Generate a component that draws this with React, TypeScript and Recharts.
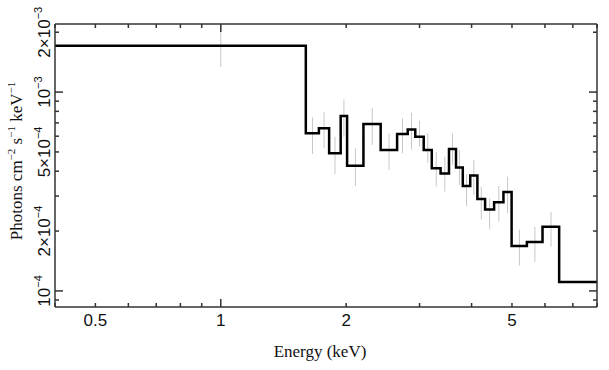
import React from 'react';
import { ComposedChart, Line, Scatter, ErrorBar, XAxis, YAxis, Label } from 'recharts';

// bin edges (keV) and flux per bin (photons cm^-2 s^-1 keV^-1)
const binEdges = [
  0.4, 1.6, 1.72, 1.82, 1.94, 2.01, 2.2, 2.42, 2.65, 2.81, 2.93, 3.07, 3.21, 3.37,
  3.53, 3.67, 3.81, 3.97, 4.13, 4.31, 4.53, 4.77, 4.99, 5.43, 5.92, 6.49, 8,
];
const binFlux = [
  1.71e-3, 6.2e-4, 6.57e-4, 4.92e-4, 7.57e-4, 4.26e-4, 6.9e-4, 5.11e-4, 6.15e-4,
  6.49e-4, 5.96e-4, 5.11e-4, 4.14e-4, 3.9e-4, 5.17e-4, 4.18e-4, 3.37e-4, 3.81e-4,
  2.9e-4, 2.57e-4, 2.79e-4, 3.14e-4, 1.68e-4, 1.76e-4, 2.1e-4, 1.11e-4,
];
const errLow = [
  1.34e-3, 4.88e-4, 5.21e-4, 3.87e-4, 5.96e-4, 3.37e-4, 5.42e-4, 4.06e-4, 4.92e-4,
  5.15e-4, 5.31e-4, 4.4e-4, 3.34e-4, 3.16e-4, 4.3e-4, 3.41e-4, 2.67e-4, 3.04e-4,
  2.29e-4, 2.04e-4, 2.23e-4, 2.46e-4, 1.34e-4, 1.4e-4, 1.67e-4, null,
];
const errHigh = [
  2.18e-3, 7.46e-4, 7.91e-4, 5.96e-4, 9.19e-4, 5.21e-4, 8.34e-4, 6.2e-4, 7.38e-4,
  7.87e-4, 7.17e-4, 6.2e-4, 5.01e-4, 4.73e-4, 6.2e-4, 5.11e-4, 3.86e-4, 4.55e-4,
  3.34e-4, 2.92e-4, 3.37e-4, 3.75e-4, 2.03e-4, 2.1e-4, 2.5e-4, null,
];

const energyTicks = [0.4, 0.5, 0.6, 0.7, 0.8, 0.9, 1, 2, 3, 4, 5, 6, 7, 8];
const energyLabeled = [0.5, 1, 2, 5];
const fluxTicks = [
  9e-5, 1e-4, 2e-4, 3e-4, 4e-4, 5e-4, 6e-4, 7e-4, 8e-4, 9e-4, 1e-3, 2e-3,
];
const fluxLabelValues = [1e-4, 2e-4, 5e-4, 1e-3, 2e-3];
const fluxLabelMantissa = ['', '2×', '5×', '', '2×'];
const fluxLabelExponent = ['−4', '−4', '−4', '−3', '−3'];

const X_DOMAIN = [0.4, 8];
const Y_DOMAIN = [8.3e-5, 2.2e-3];

const AXIS_COLOR = '#333';
const SANS = '"Liberation Sans", Arial, sans-serif';
const SERIF = '"Liberation Serif", "Times New Roman", serif';

const stepData = binEdges.map((e, i) => ({
  e,
  f: binFlux[Math.min(i, binFlux.length - 1)],
}));

const errData = binFlux
  .map((f, i) =>
    errLow[i] == null
      ? null
      : {
          e: (binEdges[i] + binEdges[i + 1]) / 2,
          f,
          err: [f - (errLow[i] as number), (errHigh[i] as number) - f],
        }
  )
  .filter(Boolean);

const near = (a: number, b: number) => Math.abs(a - b) / b < 1e-6;
const isDecade = (v: number) => near(Math.pow(10, Math.round(Math.log10(v))), v);

const BottomTick = (props: any) => {
  const { x, y, payload } = props;
  const v = payload.value;
  const len = isDecade(v) ? 8 : 4;
  const show = energyLabeled.some((l) => near(v, l));
  return (
    <g>
      <path d={`M${x},${y}V${y - len}`} stroke={AXIS_COLOR} strokeWidth={1.5} fill="none" />
      {show && (
        <text x={x} y={y + 19} textAnchor="middle" fontFamily={SANS} fontSize={17} fill="#111">
          {String(v)}
        </text>
      )}
    </g>
  );
};

const TopTick = (props: any) => {
  const { x, y, payload } = props;
  const len = isDecade(payload.value) ? 8 : 4;
  return <path d={`M${x},${y}V${y + len}`} stroke={AXIS_COLOR} strokeWidth={1.5} fill="none" />;
};

const LeftTick = (props: any) => {
  const { x, y, payload } = props;
  const v = payload.value;
  const len = isDecade(v) ? 8 : 4;
  const idx = fluxLabelValues.findIndex((l) => near(v, l));
  const tx = x - 5;
  return (
    <g>
      <path d={`M${x},${y}H${x + len}`} stroke={AXIS_COLOR} strokeWidth={1.5} fill="none" />
      {idx >= 0 && (
        <text
          x={tx}
          y={y}
          transform={`rotate(-90, ${tx}, ${y})`}
          textAnchor="middle"
          fontFamily={SANS}
          fontSize={17}
          fill="#111"
        >
          {fluxLabelMantissa[idx] + '10'}
          <tspan dy={-8} fontSize={11}>
            {fluxLabelExponent[idx]}
          </tspan>
        </text>
      )}
    </g>
  );
};

const RightTick = (props: any) => {
  const { x, y, payload } = props;
  const len = isDecade(payload.value) ? 8 : 4;
  return <path d={`M${x},${y}H${x - len}`} stroke={AXIS_COLOR} strokeWidth={1.5} fill="none" />;
};

const Sup = ({ children }: { children: React.ReactNode }) => (
  <tspan dy={-7} fontSize={11}>
    {children}
  </tspan>
);
const Base = ({ children }: { children: React.ReactNode }) => <tspan dy={7}>{children}</tspan>;

export default function App() {
  return (
    <div style={{ position: 'absolute', left: 0, top: 0, background: '#fff' }}>
      <ComposedChart
        width={609}
        height={370}
        margin={{ top: 23, right: 11, bottom: 0, left: 0 }}
      >
        <XAxis
          dataKey="e"
          type="number"
          scale="log"
          domain={X_DOMAIN}
          allowDataOverflow
          ticks={energyTicks}
          interval={0}
          tick={BottomTick}
          tickLine={false}
          tickSize={0}
          tickMargin={0}
          height={63}
          axisLine={{ stroke: AXIS_COLOR, strokeWidth: 1.5 }}
        >
          <Label
            content={() => (
              <text x={320} y={357} textAnchor="middle" fontFamily={SERIF} fontSize={17} fill="#111">
                Energy (keV)
              </text>
            )}
          />
        </XAxis>
        <XAxis
          xAxisId="top"
          orientation="top"
          dataKey="e"
          type="number"
          scale="log"
          domain={X_DOMAIN}
          allowDataOverflow
          ticks={energyTicks}
          interval={0}
          tick={TopTick}
          tickLine={false}
          tickSize={0}
          tickMargin={0}
          height={1}
          axisLine={{ stroke: AXIS_COLOR, strokeWidth: 1.5 }}
        />
        <YAxis
          type="number"
          scale="log"
          domain={Y_DOMAIN}
          allowDataOverflow
          ticks={fluxTicks}
          interval={0}
          tick={LeftTick}
          tickLine={false}
          tickSize={0}
          tickMargin={0}
          width={55}
          axisLine={{ stroke: AXIS_COLOR, strokeWidth: 1.5 }}
        >
          <Label
            content={() => (
              <text
                x={22}
                y={161}
                transform="rotate(-90, 22, 161)"
                textAnchor="middle"
                fontFamily={SERIF}
                fontSize={17}
                fill="#111"
              >
                Photons cm<Sup>−2</Sup>
                <Base> s</Base>
                <Sup>−1</Sup>
                <Base> keV</Base>
                <Sup>−1</Sup>
              </text>
            )}
          />
        </YAxis>
        <YAxis
          yAxisId="right"
          orientation="right"
          type="number"
          scale="log"
          domain={Y_DOMAIN}
          allowDataOverflow
          ticks={fluxTicks}
          interval={0}
          tick={RightTick}
          tickLine={false}
          tickSize={0}
          tickMargin={0}
          width={1}
          axisLine={{ stroke: AXIS_COLOR, strokeWidth: 1.5 }}
        />
        <Scatter data={errData as any[]} dataKey="f" shape={() => <g />} isAnimationActive={false}>
          <ErrorBar dataKey="err" direction="y" width={0} stroke="#c8c8c8" strokeWidth={1} />
        </Scatter>
        <Line
          xAxisId="top"
          yAxisId="right"
          data={stepData}
          dataKey="f"
          type="stepAfter"
          stroke="#000"
          strokeWidth={2.5}
          dot={false}
          isAnimationActive={false}
        />
      </ComposedChart>
    </div>
  );
}
